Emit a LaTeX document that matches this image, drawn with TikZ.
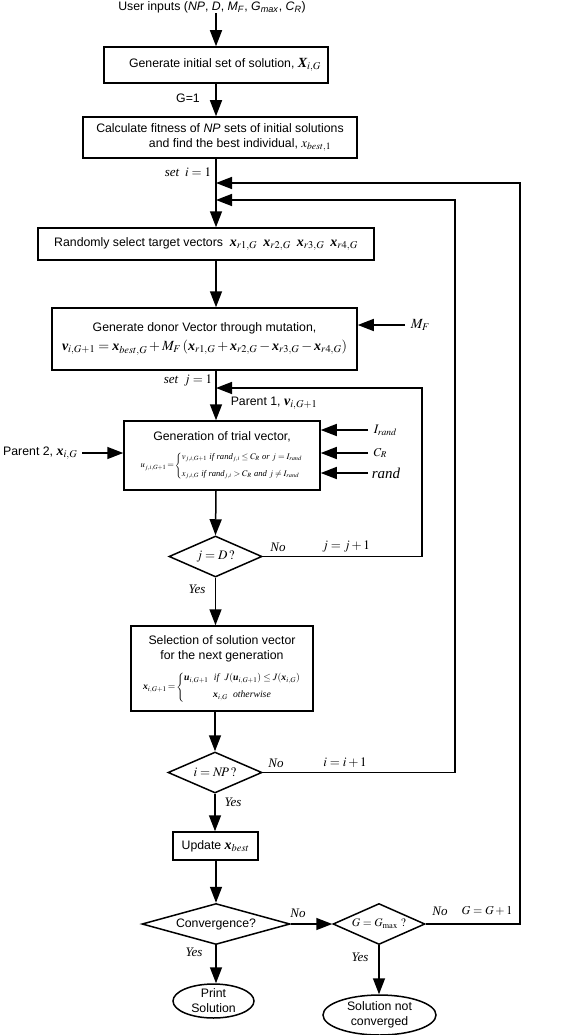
\documentclass[tikz,border=0pt]{standalone}
\usepackage{mathptmx}
\usepackage{amsmath}
\usepackage[no-math]{fontspec}
\setmainfont{Liberation Sans}
\newfontfamily\tms{Liberation Serif}
\usetikzlibrary{arrows.meta,shapes.geometric}
\newcommand\bv[1]{\text{\tms\bfseries\itshape #1}}
\newcommand\ti[1]{\text{\tms\itshape #1}}
\begin{document}
\begin{tikzpicture}[x=1pt,y=-1pt,line width=1.5pt,
  >={Triangle[length=16pt,width=12pt]},
  font=\fontsize{12.3}{15}\selectfont,
  box/.style={draw,rectangle,inner sep=0pt,align=center},
  dia/.style={draw,diamond,inner sep=0pt},
  ell/.style={draw,ellipse,inner sep=0pt,align=center},
  lbl/.style={inner sep=0pt},
  yn/.style={inner sep=0pt,font=\fontsize{13}{15}\selectfont\tms\itshape},
  mlb/.style={inner sep=0pt,font=\fontsize{13}{15}\selectfont}]
\useasboundingbox (0,0) rectangle (574,1035);
\coordinate (mx) at (216,0);
% nodes
\node[lbl] (in) at (212,7) {User inputs (\textit{NP}, \textit{D}, \textit{M}\textsubscript{\textit{F}}, \textit{G}\textsubscript{\textit{max}}, \textit{C}\textsubscript{\textit{R}})};
\node[box,minimum width=224pt,minimum height=36pt] (b1) at (216,65) {\hspace*{18pt}Generate initial set of solution, {\fontsize{14}{16}\selectfont$\bv{X}_{i,G}$}};
\node[lbl] (g1) at (188,98) {G=1};
\node[box,minimum width=274pt,minimum height=41pt] (b2) at (220,137.5) {Calculate fitness of \textit{NP} sets of initial solutions\\ \hspace*{40pt}and find the best individual, {\fontsize{13}{15}\selectfont$x_{best,1}$}};
\node[mlb] (si) at (188,172) {$\ti{set}\;\; i=1$};
\node[box,minimum width=336pt,minimum height=32pt] (b3) at (206,244) {Randomly select target vectors \ {\fontsize{14}{16}\selectfont$\bv{x}_{r1,G}\;\;\bv{x}_{r2,G}\;\;\bv{x}_{r3,G}\;\;\bv{x}_{r4,G}$}};
\node[box,minimum width=305pt,minimum height=62pt] (b4) at (204.5,339) {Generate donor Vector through mutation,\\[4pt] {\fontsize{14}{16}\selectfont$\bv{v}_{i,G+1}=\bv{x}_{best,G}+M_F\left(\bv{x}_{r1,G}+\bv{x}_{r2,G}-\bv{x}_{r3,G}-\bv{x}_{r4,G}\right)$}};
\node[lbl,anchor=west,font=\fontsize{14}{16}\selectfont] (mf) at (410,325) {$M_F$};
\node[mlb] (sj) at (188,381) {$\ti{set}\;\; j=1$};
\node[lbl,anchor=west] (p1) at (230,403) {Parent 1, {\fontsize{14}{16}\selectfont$\bv{v}_{i,G+1}$}};
\node[box,minimum width=196pt,minimum height=69pt] (b5) at (222,455.5) {Generation of trial vector,\\[9pt] {\fontsize{8.6}{10}\selectfont$u_{j,i,G+1}\!=\!\left\{\begin{array}{@{}l@{}} v_{j,i,G+1}\ \ti{if}\ \ti{rand}_{j,i}\le C_R\ \ti{or}\ j=I_{rand}\\[7pt] x_{j,i,G}\ \ti{if}\ \ti{rand}_{j,i}>C_R\ \ti{and}\ j\ne I_{rand}\end{array}\right.$}};
\node[lbl,anchor=east] (p2) at (78,453) {Parent 2, {\fontsize{14}{16}\selectfont$\bv{x}_{i,G}$}};
\node[lbl,anchor=west,font=\fontsize{13}{15}\selectfont] (ir) at (373,430) {$I_{rand}$};
\node[lbl,anchor=west,font=\fontsize{12}{14}\selectfont] (cr) at (373,453) {$C_R$};
\node[lbl,anchor=west,font=\fontsize{15}{17}\selectfont\tms\itshape] (rd) at (371,473) {rand};
\node[dia,minimum width=93pt,minimum height=41pt,aspect=2.27] (d1) at (215.5,556.5) {\fontsize{13}{15}\selectfont$j=D\,?$};
\node[yn] (n1) at (278,547) {No};
\node[mlb] (jj) at (346,547) {$j=j+1$};
\node[yn] (y1) at (197,589) {Yes};
\node[box,minimum width=182pt,minimum height=85pt] (b6) at (222,668.5) {Selection of solution vector\\ for the next generation\\[10pt] {\fontsize{9.7}{11}\selectfont$\bv{x}_{i,G+1}\!=\!\left\{\begin{array}{@{}c@{}} \bv{u}_{i,G+1}\ \ \ti{if}\ \ J(\bv{u}_{i,G+1})\le J(\bv{x}_{i,G})\\[6pt] \bv{x}_{i,G}\ \ \ti{otherwise}\end{array}\right.$}};
\node[dia,minimum width=94pt,minimum height=41pt,aspect=2.29] (d2) at (215,772.5) {\fontsize{13}{15}\selectfont$i=N\!P\,?$};
\node[yn] (n2) at (276,763) {No};
\node[mlb] (ii) at (345,763) {$i=i+1$};
\node[yn] (y2) at (233,802) {Yes};
\node[box,minimum width=85pt,minimum height=28pt] (up) at (215.5,846) {Update {\fontsize{14}{16}\selectfont$\bv{x}_{best}$}};
\node[dia,minimum width=148pt,minimum height=41pt,aspect=3.6] (d3) at (216,924) {Convergence?};
\node[yn] (n3) at (298,913) {No};
\node[yn] (y3) at (194,952) {Yes};
\node[dia,minimum width=92pt,minimum height=41pt,aspect=2.24] (d4) at (379,924) {\fontsize{11.5}{13}\selectfont$G=G_{\max}\ ?$};
\node[yn] (n4) at (440,911) {No};
\node[lbl,font=\fontsize{12}{14}\selectfont] (gg) at (487,911) {$G=G+1$};
\node[yn] (y4) at (360,957) {Yes};
\node[ell,minimum width=81pt,minimum height=32pt] (e1) at (213.5,1001) {Print\\Solution};
\node[ell,minimum width=113pt,minimum height=40pt] (e2) at (379.5,1015) {Solution not\\converged};
% loop corners
\coordinate (gl) at (520,183);
\coordinate (il) at (455,200);
\coordinate (jl) at (422,388);
% connectors
\draw[->] (in.south -| mx) -- (b1.north -| mx);
\draw[->] (b1.south -| mx) -- (b2.north -| mx);
\draw[->] (b2.south -| mx) -- (b3.north -| mx);
\draw[->] (b3.south -| mx) -- (b4.north -| mx);
\draw[->] (b4.south -| mx) -- (b5.north -| mx);
\draw[->] (b5.south -| mx) -- (d1.north);
\draw[->] (d1.south) -- (d1.south |- b6.north);
\draw[->] (b6.south -| d2.north) -- (d2.north);
\draw[->] (d2.south) -- (d2.south |- up.north);
\draw[->] (up.south -| d3.north) -- (d3.north);
\draw[->] (d3.south) -- (d3.south |- e1.north);
\draw[->] (d3.east) -- (d4.west);
\draw[->] (d4.south) -- (d4.south |- e2.north);
\draw[->] (d4.east) -| (gl) -- (gl -| mx);
\draw[->] (d2.east) -| (il) -- (il -| mx);
\draw[->] (d1.east) -| (jl) -- (jl -| mx);
\draw[->] ([xshift=-5pt]mf.west) -- (mf.west -| b4.east);
\draw[->] ([xshift=-5pt]ir.west) -- (ir.west -| b5.east);
\draw[->] ([xshift=-5pt]cr.west) -- (cr.west -| b5.east);
\draw[->] ([xshift=-3pt]rd.west) -- (rd.west -| b5.east);
\draw[->] ([xshift=4pt]p2.east) -- (p2.east -| b5.west);
\end{tikzpicture}
\end{document}
